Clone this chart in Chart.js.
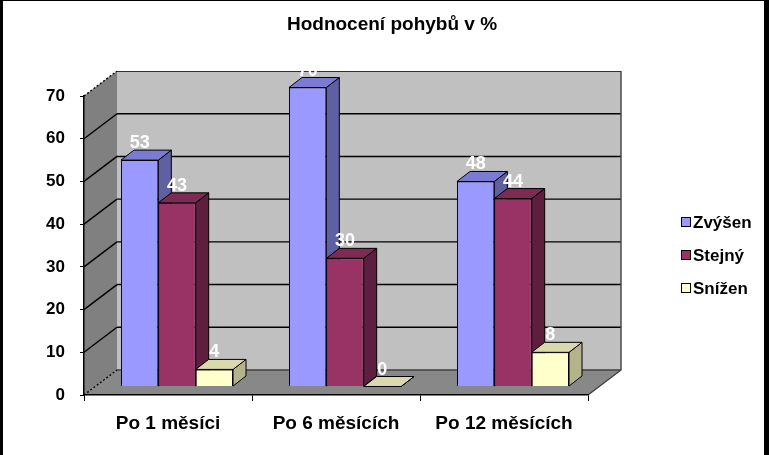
<!DOCTYPE html>
<html>
<head>
<meta charset="utf-8">
<script src="https://cdn.jsdelivr.net/npm/chart.js@4"></script>
<style>
  html, body { margin: 0; padding: 0; background: #fff; }
  #wrap { width: 769px; height: 455px; position: relative; }
</style>
</head>
<body>
<div id="wrap"><canvas id="chart"></canvas></div>
<script>
// Data
const categories = ["Po 1 měsíci", "Po 6 měsících", "Po 12 měsících"];
const zvysen = [53, 70, 48];
const stejny = [43, 30, 44];
const snizen = [4, 0, 8];
const seriesNames = ["Zvýšen", "Stejný", "Snížen"];
const yTicks = [0, 10, 20, 30, 40, 50, 60, 70];

const FONT = "'Liberation Sans', Arial, sans-serif";

// face colours: front, top, side
const palette = [
    { front: "#9999ff", top: "#7b7bd4", side: "#5f5fa3" },
    { front: "#993366", top: "#7d2a54", side: "#5e1f3f" },
    { front: "#ffffcc", top: "#d9d9ad", side: "#b3b38c" },
];

// 3D projection
const WALL = { dx: 33, dy: -25 };   // back wall offset from front plane
const BAR_SHIFT = { dx: 9, dy: -8.5 }; // bars sit a bit behind the front plane
const BAR_DEPTH = { dx: 13, dy: -10 };

function poly(ctx, pts, fill, stroke) {
    ctx.beginPath();
    ctx.moveTo(pts[0][0], pts[0][1]);
    for (let i = 1; i < pts.length; i++) ctx.lineTo(pts[i][0], pts[i][1]);
    ctx.closePath();
    if (fill) { ctx.fillStyle = fill; ctx.fill(); }
    if (stroke) { ctx.strokeStyle = stroke; ctx.lineWidth = 1; ctx.stroke(); }
}

const walls3d = {
    id: "walls3d",
    beforeDraw(chart) {
        const ctx = chart.ctx;
        const { left, right, bottom } = chart.chartArea;
        const y = chart.scales.y;
        const top = y.getPixelForValue(yTicks[yTicks.length - 1]);
        const { dx, dy } = WALL;
        ctx.save();
        ctx.fillStyle = "#fff";
        ctx.fillRect(0, 0, chart.width, chart.height);
        // frame
        ctx.fillStyle = "#000";
        ctx.fillRect(0, 0, 3, chart.height);
        ctx.fillRect(chart.width - 5, 0, 5, chart.height);
        ctx.fillRect(0, 0, chart.width, 1);

        // back wall
        poly(ctx, [[left + dx, top + dy], [right + dx, top + dy], [right + dx, bottom + dy], [left + dx, bottom + dy]], "#c0c0c0");
        // left wall
        poly(ctx, [[left, top], [left + dx, top + dy], [left + dx, bottom + dy], [left, bottom]], "#808080");
        // floor
        poly(ctx, [[left, bottom], [left + dx, bottom + dy], [right + dx, bottom + dy], [right, bottom]], "#888888");

        ctx.lineWidth = 1.4;
        ctx.strokeStyle = "#000";
        yTicks.forEach((v) => {
            const py = y.getPixelForValue(v);
            const edge = v === 0 || v === yTicks[yTicks.length - 1];
            ctx.beginPath();
            ctx.setLineDash(edge ? [2, 2] : []);
            ctx.moveTo(left, py);
            ctx.lineTo(left + dx, py + dy);
            ctx.stroke();
            ctx.setLineDash([]);
            ctx.beginPath();
            ctx.moveTo(left + dx, py + dy);
            ctx.lineTo(right + dx, py + dy);
            ctx.strokeStyle = v === 0 ? "#404040" : "#000";
            ctx.stroke();
            ctx.strokeStyle = "#000";
        });
        // right edge of back wall and floor
        ctx.strokeStyle = "#404040";
        ctx.beginPath();
        ctx.moveTo(right + dx, top + dy);
        ctx.lineTo(right + dx, bottom + dy);
        ctx.lineTo(right, bottom);
        ctx.stroke();
        ctx.restore();
    },
};

const bars3d = {
    id: "bars3d",
    beforeDatasetDraw() {
        return false; // drawn below, in depth order
    },
    afterDatasetsDraw(chart) {
        const ctx = chart.ctx;
        ctx.save();
        ctx.translate(BAR_SHIFT.dx, BAR_SHIFT.dy);
        chart.data.datasets.forEach((ds, i) => {
            const meta = chart.getDatasetMeta(i);
            const col = palette[i];
            meta.data.forEach((bar) => {
                const { x, y, base, width } = bar.getProps(["x", "y", "base", "width"], true);
                const l = x - width / 2, r = x + width / 2;
                const { dx, dy } = BAR_DEPTH;
                if (base - y > 0.5) bar.draw(ctx);
                poly(ctx, [[r, y], [r + dx, y + dy], [r + dx, base + dy], [r, base]], col.side, "#000");
                poly(ctx, [[l, y], [l + dx, y + dy], [r + dx, y + dy], [r, y]], col.top, "#000");
            });
        });
        // value labels
        ctx.fillStyle = "#fff";
        ctx.font = "bold 18px " + FONT;
        ctx.textAlign = "center";
        ctx.textBaseline = "alphabetic";
        chart.data.datasets.forEach((ds, i) => {
            chart.getDatasetMeta(i).data.forEach((bar, j) => {
                const { x, y } = bar.getProps(["x", "y"], true);
                ctx.fillText(String(ds.data[j]), x, y - 12);
            });
        });
        ctx.restore();
        // white above the back wall hides labels poking out
        const top = chart.scales.y.getPixelForValue(yTicks[yTicks.length - 1]) + WALL.dy;
        ctx.save();
        ctx.fillStyle = "#fff";
        ctx.fillRect(60, top - 40, 600, 40);
        ctx.restore();
    },
    afterDraw(chart) {
        const ctx = chart.ctx;
        ctx.save();
        // title
        ctx.fillStyle = "#000";
        ctx.font = "bold 19px " + FONT;
        ctx.textAlign = "center";
        ctx.textBaseline = "middle";
        ctx.fillText("Hodnocení pohybů v %", 392, 25);
        // legend
        ctx.font = "bold 17px " + FONT;
        ctx.textAlign = "left";
        seriesNames.forEach((name, i) => {
            const cy = 223 + i * 33;
            ctx.fillStyle = palette[i].front;
            ctx.fillRect(681.5, cy - 5.5, 9, 9);
            ctx.strokeStyle = "#000";
            ctx.lineWidth = 1;
            ctx.strokeRect(681.5, cy - 5.5, 9, 9);
            ctx.fillStyle = "#000";
            ctx.fillText(name, 693, cy);
        });
        ctx.restore();
    },
};

new Chart(document.getElementById("chart"), {
    type: "bar",
    data: {
        labels: categories,
        datasets: [zvysen, stejny, snizen].map((d, i) => ({
            label: seriesNames[i],
            data: d,
            backgroundColor: palette[i].front,
            borderColor: "#000",
            borderWidth: 1,
            clip: false,
        })),
    },
    options: {
        responsive: true,
        maintainAspectRatio: false,
        animation: false,
        events: [],
        layout: { padding: { top: 96, right: 181, left: 0, bottom: 0 } },
        categoryPercentage: 0.667,
        barPercentage: 1.0,
        plugins: {
            legend: { display: false },
            title: { display: false },
            tooltip: { enabled: false },
        },
        scales: {
            x: {
                afterFit: (s) => { s.height = 60; },
                grid: { offset: true, drawOnChartArea: false, drawTicks: true, tickLength: 6, color: "#000" },
                border: { display: true, color: "#000", width: 1.5 },
                ticks: {
                    color: "#000",
                    padding: 11,
                    font: { family: FONT, size: 19, weight: "bold" },
                    maxRotation: 0,
                },
            },
            y: {
                min: 0,
                max: 70,
                afterFit: (s) => { s.width = 84; },
                afterBuildTicks: (s) => { s.ticks = yTicks.map((v) => ({ value: v })); },
                grid: { drawOnChartArea: false, drawTicks: true, tickLength: 4, color: "#000" },
                border: { display: true, color: "#000", width: 1.5 },
                ticks: {
                    color: "#000",
                    padding: 15,
                    font: { family: FONT, size: 17, weight: "bold" },
                },
            },
        },
    },
    plugins: [walls3d, bars3d],
});
</script>
</body>
</html>
